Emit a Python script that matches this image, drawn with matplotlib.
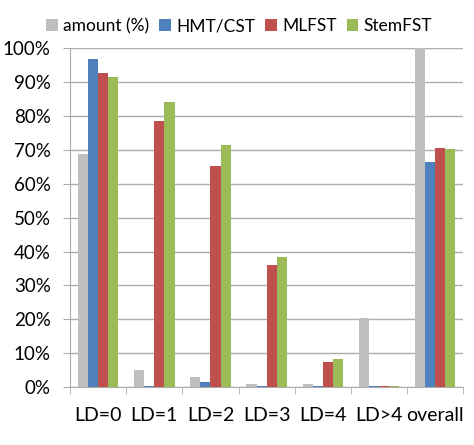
import numpy as np
import matplotlib
matplotlib.use("Agg")
import matplotlib.pyplot as plt
from matplotlib.ticker import FuncFormatter, MultipleLocator

plt.rcParams['font.family'] = ['Lato', 'DejaVu Sans']

categories = ['LD=0', 'LD=1', 'LD=2', 'LD=3', 'LD=4', 'LD>4', 'overall']
amount = [68.7, 5.2, 2.9, 1.0, 1.0, 20.5, 100.0]
hmt_cst = [96.7, 0.2, 1.6, 0.2, 0.3, 0.2, 66.3]
mlfst = [92.7, 78.6, 65.3, 35.9, 7.5, 0.3, 70.4]
stemfst = [91.6, 84.2, 71.3, 38.3, 8.2, 0.2, 70.3]

series = [('amount (%)', amount, '#BFBFBF'),
          ('HMT/CST', hmt_cst, '#4F81BD'),
          ('MLFST', mlfst, '#C0504D'),
          ('StemFST', stemfst, '#9BBB59')]

fig = plt.figure(figsize=(4.74, 4.45), dpi=100)
ax = fig.add_axes([0.148, 0.130, 0.829, 0.762])

x = np.arange(len(categories))
w = 0.18
for i, (name, vals, col) in enumerate(series):
    ax.bar(x + (i - 1.5) * w, vals, width=w, color=col, label=name, zorder=3)

ax.set_xlim(-0.5, len(categories) - 0.5)
ax.set_ylim(0, 100)
ax.yaxis.set_major_locator(MultipleLocator(10))
ax.yaxis.set_major_formatter(FuncFormatter(lambda v, p: f'{v:.0f}%'))
ax.grid(axis='y', color='#ADADAD', linewidth=1, zorder=0)

ax.set_xticks(x)
ax.set_xticklabels(categories)
ax.set_xticks(np.arange(-0.5, len(categories)), minor=True)
ax.tick_params(axis='x', which='major', length=0, pad=14, labelsize=14)
ax.tick_params(axis='x', which='minor', length=5, color='#ADADAD', direction='out')
ax.tick_params(axis='y', length=5, color='#ADADAD', labelsize=13.5, pad=9)

for s in ['top', 'right']:
    ax.spines[s].set_visible(False)
for s in ['left', 'bottom']:
    ax.spines[s].set_color('#ADADAD')

ax.legend(loc='lower center', bbox_to_anchor=(0.43, 1.01), ncol=4, frameon=False,
          fontsize=12.5, handlelength=0.65, handleheight=0.65, handletextpad=0.3,
          columnspacing=0.6, borderaxespad=0.2)

fig.savefig('out.png', dpi=100)
